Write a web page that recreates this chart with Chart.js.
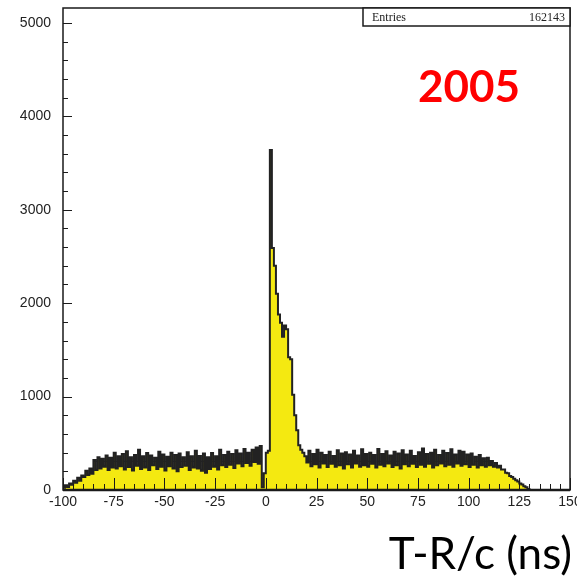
<!DOCTYPE html>
<html>
<head>
<meta charset="utf-8">
<script src="https://cdn.jsdelivr.net/npm/chart.js@4.4.0/dist/chart.umd.min.js"></script>
<style>
  html, body { margin: 0; padding: 0; background: #fff; }
  #wrap { position: relative; width: 577px; height: 576px; overflow: hidden; }
  #year { position: absolute; left: 418px; top: 63px; font: bold 44px Lato, sans-serif; line-height: 1; color: #ff0000; }
  #xtitle { position: absolute; right: 5px; top: 530px; font: 44px Lato, sans-serif; line-height: 1; color: #000; }
</style>
</head>
<body>
<div id="wrap">
  <canvas id="chart" width="577" height="576"></canvas>
  <div id="year">2005</div>
  <div id="xtitle">T-R/c (ns)</div>
</div>
<script>
// histogram: 1 ns bins from -100 to 150
const xMin = -100;
const xMax = 150;
const binWidth = 1;
const counts = [
  25, 50, 32, 70, 55, 100, 78, 130, 100, 155,         // -100
  140, 205, 160, 230, 175, 320, 215, 350, 230, 335,   // -90
  250, 370, 215, 345, 240, 400, 230, 360, 255, 385,   // -80
  220, 415, 245, 350, 210, 375, 260, 430, 225, 360,   // -70
  240, 395, 215, 370, 265, 345, 225, 410, 250, 380,   // -60
  210, 355, 255, 400, 230, 375, 200, 390, 245, 350,   // -50
  260, 405, 215, 360, 240, 420, 230, 365, 205, 390,   // -40
  185, 350, 225, 395, 250, 360, 220, 430, 265, 375,   // -30
  245, 410, 270, 385, 235, 425, 285, 390, 255, 440,   // -20
  290, 400, 260, 430, 300, 455, 280, 470, 30, 180,    // -10
  400, 420, 3640, 2590, 2400, 2100, 1880, 1790, 1640, 1760, // 0
  1720, 1420, 1400, 1020, 800, 640, 480, 430, 400, 360,     // 10
  295, 420, 255, 385, 275, 430, 240, 400, 285, 375,   // 20
  245, 410, 280, 365, 250, 425, 265, 390, 230, 405,   // 30
  275, 380, 240, 420, 285, 370, 250, 435, 265, 385,   // 40
  250, 400, 280, 375, 240, 440, 270, 385, 255, 415,   // 50
  285, 370, 245, 410, 265, 390, 230, 425, 275, 380,   // 60
  255, 420, 280, 365, 245, 405, 270, 445, 250, 385,   // 70
  280, 400, 240, 430, 265, 375, 285, 420, 255, 395,   // 80
  270, 435, 250, 380, 285, 420, 260, 410, 275, 380,   // 90
  245, 390, 270, 355, 240, 375, 265, 340, 250, 345,   // 100
  265, 310, 250, 290, 240, 260, 220, 220, 185, 180,   // 110
  150, 140, 120, 105, 90, 70, 60, 40, 30, 12,         // 120
  0, 0, 0, 0, 0, 0, 0, 0, 0, 0,                       // 130
  0, 0, 0, 0, 0, 0, 0, 0, 0, 0                        // 140
];
const xTickValues = [-100, -75, -50, -25, 0, 25, 50, 75, 100, 125, 150];
const yTickValues = [0, 1000, 2000, 3000, 4000, 5000];
const yMax = 5160;
const entriesLabel = "Entries";
const entriesValue = "162143";

// points at left bin edges, plus closing point at xMax
const points = counts.map((c, i) => ({ x: xMin + i * binWidth, y: c }));
points.push({ x: xMax, y: counts[counts.length - 1] });

// keep the plot frame where it is, labels may overflow
function noPad(s) {
  s.paddingLeft = 0; s.paddingRight = 0; s.paddingTop = 0; s.paddingBottom = 0;
}

// ROOT-like frame, inner ticks and stats box
const rootFrame = {
  id: 'rootFrame',
  afterDatasetsDraw(chart) {
    const { ctx, chartArea: a, scales: { x, y } } = chart;
    ctx.save();
    ctx.strokeStyle = '#1a1a1a';
    ctx.lineWidth = 1;
    ctx.beginPath();
    for (let v = xMin; v <= xMax; v += 5) {
      const px = Math.round(x.getPixelForValue(v)) + 0.5;
      const len = v % 25 === 0 ? 12 : 6;
      ctx.moveTo(px, a.bottom);
      ctx.lineTo(px, a.bottom - len);
    }
    for (let v = 0; v <= yMax; v += 200) {
      const py = Math.round(y.getPixelForValue(v)) + 0.5;
      const len = v % 1000 === 0 ? 9 : 5;
      ctx.moveTo(a.left, py);
      ctx.lineTo(a.left + len, py);
    }
    ctx.stroke();

    ctx.lineWidth = 1.5;
    ctx.strokeRect(a.left, a.top, a.right - a.left, a.bottom - a.top);
    ctx.lineWidth = 2.5;
    ctx.beginPath();
    ctx.moveTo(a.left, a.bottom);
    ctx.lineTo(a.right, a.bottom);
    ctx.stroke();

    // stats box
    const bx = 363, bh = 18;
    ctx.fillStyle = '#fff';
    ctx.fillRect(bx, a.top, a.right - bx, bh);
    ctx.lineWidth = 1.5;
    ctx.strokeRect(bx, a.top, a.right - bx, bh);
    ctx.fillStyle = '#222';
    ctx.font = '12px "Liberation Serif", serif';
    ctx.textBaseline = 'alphabetic';
    ctx.textAlign = 'left';
    ctx.fillText(entriesLabel, bx + 9, a.top + 13);
    ctx.textAlign = 'right';
    ctx.fillText(entriesValue, a.right - 5, a.top + 13);
    ctx.restore();
  }
};

new Chart(document.getElementById('chart'), {
  type: 'line',
  data: {
    datasets: [{
      data: points,
      stepped: 'before',
      fill: 'origin',
      backgroundColor: '#f4e911',
      borderColor: '#222',
      borderWidth: 2,
      pointRadius: 0,
      tension: 0
    }]
  },
  options: {
    responsive: false,
    animation: false,
    layout: { padding: { top: 8, right: 7, left: 0, bottom: 0 } },
    plugins: { legend: { display: false }, tooltip: { enabled: false } },
    scales: {
      x: {
        type: 'linear',
        min: xMin,
        max: xMax,
        afterBuildTicks: s => { s.ticks = xTickValues.map(v => ({ value: v })); },
        afterFit: s => { s.height = 86; noPad(s); },
        grid: { display: false, drawTicks: false },
        border: { display: false },
        ticks: {
          autoSkip: false,
          maxRotation: 0,
          padding: 4,
          color: '#222',
          font: { family: 'Liberation Sans', size: 14 },
          callback: v => String(v)
        }
      },
      y: {
        min: 0,
        max: yMax,
        afterBuildTicks: s => { s.ticks = yTickValues.map(v => ({ value: v })); },
        afterFit: s => { s.width = 63; noPad(s); },
        grid: { display: false, drawTicks: false },
        border: { display: false },
        ticks: {
          padding: 12,
          color: '#222',
          font: { family: 'Liberation Sans', size: 14 },
          callback: v => String(v)
        }
      }
    }
  },
  plugins: [rootFrame]
});
</script>
</body>
</html>
